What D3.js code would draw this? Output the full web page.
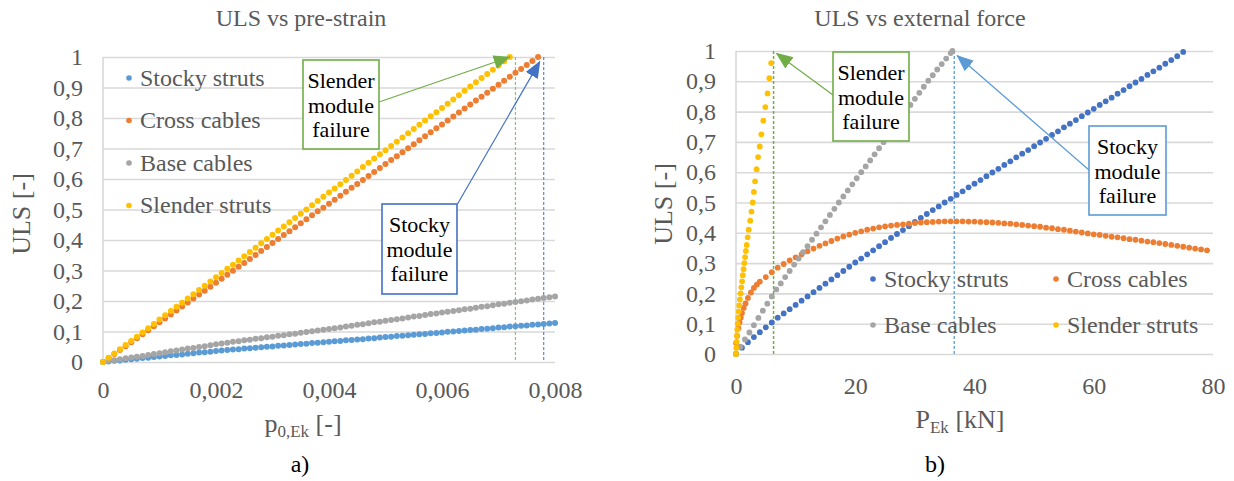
<!DOCTYPE html>
<html>
<head>
<meta charset="utf-8">
<script src="https://cdn.jsdelivr.net/npm/d3@7"></script>
<style>
  body { margin: 0; background: #fff; }
  svg { display: block; }
  text { font-family: "Liberation Serif", "Times New Roman", serif; }
</style>
</head>
<body>
<svg id="chart" width="1234" height="481"></svg>
<script>
// ---- shared ----
const seriesNames = ["Stocky struts", "Cross cables", "Base cables", "Slender struts"];
const colorsA = ["#5B9BD5", "#ED7D31", "#A5A5A5", "#FFC000"];
const colorsB = ["#4472C4", "#ED7D31", "#A5A5A5", "#FFC000"];
const ulsTicks = [0, 0.1, 0.2, 0.3, 0.4, 0.5, 0.6, 0.7, 0.8, 0.9, 1];
const strainTicks = [0, 0.002, 0.004, 0.006, 0.008];
const forceTicks = [0, 20, 40, 60, 80];

// ---- a) ULS vs pre-strain (pre-strain steps given in units of 1e-4) ----
const strainStep = [0,1,2,3,4,5,6,7,8,9,10,11,12,13,14,15,16,17,18,19,20,21,22,23,24,25,26,27,28,29,30,31,32,33,34,35,36,37,38,39,40,41,42,43,44,45,46,47,48,49,50,51,52,53,54,55,56,57,58,59,60,61,62,63,64,65,66,67,68,69,70,71,72,73,74,75,76,77,78,79,80];
const ulsStockyA = [0,.002,.004,.005,.007,.009,.011,.013,.014,.016,.018,.020,.022,.023,.025,.027,.029,.031,.032,.034,.036,.038,.039,.041,.042,.044,.045,.047,.048,.050,.051,.053,.054,.056,.057,.059,.060,.062,.063,.065,.066,.068,.069,.071,.072,.074,.075,.077,.078,.080,.082,.083,.085,.086,.088,.089,.091,.092,.094,.095,.097,.099,.100,.102,.103,.105,.106,.108,.109,.111,.113,.114,.116,.117,.119,.120,.122,.123,.125,.126,.128];
const ulsCrossA = [0,.013,.026,.039,.052,.065,.078,.091,.104,.117,.130,.143,.156,.169,.182,.195,.208,.221,.234,.247,.260,.273,.286,.299,.312,.325,.338,.351,.364,.377,.390,.403,.416,.429,.442,.455,.468,.481,.494,.506,.519,.532,.545,.558,.571,.584,.597,.610,.623,.636,.649,.662,.675,.688,.701,.714,.727,.740,.753,.766,.779,.792,.805,.818,.831,.844,.857,.870,.883,.896,.909,.922,.935,.948,.961,.974,.987,1];
const ulsBaseA = [0,.003,.006,.009,.012,.015,.017,.020,.023,.026,.029,.032,.035,.038,.041,.044,.046,.049,.052,.055,.058,.061,.063,.066,.068,.071,.073,.076,.078,.081,.083,.086,.088,.091,.093,.096,.098,.101,.103,.106,.108,.111,.113,.116,.119,.122,.124,.127,.130,.132,.135,.138,.140,.143,.146,.149,.151,.154,.157,.159,.162,.165,.167,.170,.173,.175,.178,.181,.183,.186,.189,.191,.194,.197,.199,.202,.205,.207,.210,.212,.215];
const ulsSlenderA = [0,.014,.028,.042,.056,.069,.083,.097,.111,.125,.139,.153,.167,.181,.194,.208,.222,.236,.25,.264,.278,.292,.306,.319,.333,.347,.361,.375,.389,.403,.417,.431,.444,.458,.472,.486,.5,.514,.528,.542,.556,.569,.583,.597,.611,.625,.639,.653,.667,.681,.694,.708,.722,.736,.75,.764,.778,.792,.806,.819,.833,.847,.861,.875,.889,.903,.917,.931,.944,.958,.972,.986,1];
// module failure pre-strains
const failStrainSlender = 0.0073;
const failStrainStocky = 0.0078;

// ---- b) ULS vs external force [kN] ----
const loadStocky = [0,1,2,3,4,5,6,7,8,9,10,11,12,13,14,15,16,17,18,19,20,21,22,23,24,25,26,27,28,29,30,31,32,33,34,35,36,37,38,39,40,41,42,43,44,45,46,47,48,49,50,51,52,53,54,55,56,57,58,59,60,61,62,63,64,65,66,67,68,69,70,71,72,73,74,75];
const ulsStockyB = [0,.021,.039,.056,.072,.088,.104,.12,.134,.148,.162,.176,.19,.204,.218,.232,.246,.26,.274,.288,.302,.315,.329,.342,.356,.369,.383,.396,.409,.422,.436,.449,.462,.475,.487,.5,.512,.525,.537,.55,.562,.574,.587,.599,.611,.624,.636,.649,.661,.673,.686,.698,.71,.723,.735,.748,.76,.772,.785,.797,.809,.822,.834,.846,.859,.871,.884,.896,.908,.921,.933,.945,.958,.97,.983,.997];
const loadCross = [0,.2,.4,.6,.8,1,1.3,1.6,2,2.5,3,3.5,4,5,6,7,8,9,10,11,12,13,14,15,16,17,18,19,20,21,22,23,24,25,26,27,28,29,30,31,32,33,34,35,36,37,38,39,40,41,42,43,44,45,46,47,48,49,50,51,52,53,54,55,56,57,58,59,60,61,62,63,64,65,66,67,68,69,70,71,72,73,74,75,76,77,78,79];
const ulsCrossB = [.036,.06,.085,.104,.12,.135,.152,.167,.185,.203,.218,.229,.239,.254,.27,.285,.297,.309,.319,.329,.339,.348,.357,.365,.373,.381,.388,.394,.4,.405,.41,.414,.418,.421,.424,.426,.428,.43,.432,.434,.435,.436,.437,.438,.438,.438,.438,.437,.437,.436,.435,.434,.433,.431,.43,.428,.426,.424,.422,.42,.417,.415,.412,.41,.407,.404,.401,.398,.395,.393,.39,.387,.385,.382,.379,.377,.374,.371,.369,.366,.363,.36,.357,.354,.351,.348,.345,.342];
const loadBase = [0,.75,1.5,2.25,3,3.75,4.5,5.25,6,6.75,7.5,8.25,9,9.75,10.5,11.25,12,12.75,13.5,14.25,15,15.75,16.5,17.25,18,18.75,19.5,20.25,21,21.75,22.5,23.25,24,24.75,25.5,26.25,27,27.75,28.5,29.25,30,30.75,31.5,32.25,33,33.75,34.5,35.25,36,36.3];
const ulsBaseB = [0,.024,.048,.071,.095,.119,.143,.166,.19,.213,.233,.254,.274,.295,.315,.336,.356,.377,.397,.418,.438,.459,.479,.5,.52,.54,.56,.58,.6,.619,.639,.659,.679,.699,.719,.74,.76,.781,.801,.822,.842,.862,.882,.902,.92,.939,.957,.975,.993,1];
const loadSlender = [0,.05,.1,.16,.22,.28,.36,.45,.55,.66,.78,.9,1.02,1.14,1.27,1.4,1.52,1.66,1.79,1.96,2.13,2.38,2.6,2.8,3.0,3.2,3.45,3.7,3.98,4.25,4.58,4.92,5.3,5.6,5.9];
const ulsSlenderB = [0,.02,.04,.06,.08,.1,.12,.14,.16,.18,.2,.22,.24,.26,.28,.3,.32,.34,.36,.385,.41,.44,.47,.5,.535,.57,.61,.65,.685,.725,.77,.815,.86,.91,.96];
// module failure loads
const failLoadSlender = 6.3;
const failLoadStocky = 36.6;

const svg = d3.select("#chart");
const gray = "#595959";
const gridColor = "#D9D9D9";
const green = "#70AD47";

const ulsFormat = d => (d === 0 || d === 1) ? String(d) : d.toFixed(1).replace(".", ",");

// arrowhead markers
const defs = svg.append("defs");
function marker(id, color) {
  defs.append("marker")
    .attr("id", id)
    .attr("viewBox", "0 -8 17 16")
    .attr("refX", 16).attr("refY", 0)
    .attr("markerWidth", 17).attr("markerHeight", 16)
    .attr("markerUnits", "userSpaceOnUse")
    .attr("orient", "auto")
    .append("path").attr("d", "M0,-7L17,0L0,7Z").attr("fill", color);
}
marker("arrGreen", green);
marker("arrBlueDark", "#4472C4");
marker("arrBlueLight", "#5B9BD5");

function drawPanel(o) {
  const g = svg.append("g");
  const x = d3.scaleLinear().domain(o.xDomain).range([o.left, o.right]);
  const y = d3.scaleLinear().domain([0, 1]).range([o.bottom, o.top]);

  // horizontal gridlines
  g.append("g")
    .attr("transform", `translate(${o.left},0)`)
    .call(d3.axisLeft(y).tickValues(ulsTicks).tickSize(-(o.right - o.left)).tickFormat(""))
    .call(a => a.select(".domain").remove())
    .selectAll("line").attr("stroke", gridColor).attr("stroke-width", 1.6);

  // vertical axis line
  g.append("line")
    .attr("x1", o.left).attr("x2", o.left)
    .attr("y1", o.top).attr("y2", o.bottom)
    .attr("stroke", gridColor).attr("stroke-width", 1.6);

  // y tick labels
  g.append("g")
    .attr("transform", `translate(${o.left},0)`)
    .call(d3.axisLeft(y).tickValues(ulsTicks).tickSize(0).tickPadding(20).tickFormat(ulsFormat))
    .call(a => a.select(".domain").remove())
    .attr("font-family", "Liberation Serif, Times New Roman, serif")
    .attr("font-size", 24)
    .style("color", gray);

  // x tick labels
  g.append("g")
    .attr("transform", `translate(0,${o.bottom})`)
    .call(d3.axisBottom(x).tickValues(o.xTicks).tickSize(0).tickPadding(o.xPad).tickFormat(o.xFormat))
    .call(a => a.select(".domain").remove())
    .attr("font-family", "Liberation Serif, Times New Roman, serif")
    .attr("font-size", 24)
    .style("color", gray);

  // failure markers (dashed verticals)
  o.failures.forEach(f => {
    g.append("line")
      .attr("x1", x(f.value)).attr("x2", x(f.value))
      .attr("y1", o.top).attr("y2", o.bottom)
      .attr("stroke", f.color).attr("stroke-width", f.width)
      .attr("stroke-dasharray", "3,2");
  });

  // data series
  o.series.forEach((s, i) => {
    g.append("g").selectAll("circle")
      .data(s.xs.map((v, k) => [v, s.ys[k]]))
      .join("circle")
      .attr("cx", d => x(d[0] * (o.xUnit || 1)))
      .attr("cy", d => y(d[1]))
      .attr("r", o.r)
      .attr("fill", o.colors[i]);
  });

  // title
  g.append("text")
    .attr("x", o.titleX).attr("y", 26)
    .attr("text-anchor", "middle")
    .attr("font-size", 24).attr("fill", gray)
    .text(o.title);

  // y axis title
  g.append("text")
    .attr("transform", `translate(${o.yTitleX},${o.yTitleY}) rotate(-90)`)
    .attr("text-anchor", "middle").attr("dy", "0.35em")
    .attr("font-size", 26).attr("fill", gray)
    .text("ULS [-]");

  // x axis title with subscript
  const xt = g.append("text")
    .attr("x", o.xTitleX).attr("y", o.xTitleY)
    .attr("text-anchor", "middle")
    .attr("font-size", 26).attr("fill", gray);
  xt.append("tspan").text(o.xTitle[0]);
  xt.append("tspan").attr("font-size", 17).attr("dy", 5).text(o.xTitle[1]);
  xt.append("tspan").attr("dy", -5).text(o.xTitle[2]);

  // panel caption
  g.append("text")
    .attr("x", o.captionX).attr("y", 472)
    .attr("text-anchor", "middle")
    .attr("font-size", 24).attr("fill", "#000")
    .text(o.caption);

  // legend
  o.legend.forEach((l, i) => {
    g.append("circle").attr("cx", l.x).attr("cy", l.y).attr("r", 2.8).attr("fill", o.colors[i]);
    g.append("text").attr("x", l.x + 11).attr("y", l.y).attr("dy", "0.33em")
      .attr("font-size", 24).attr("fill", gray).text(seriesNames[i]);
  });

  // annotation callouts
  o.notes.forEach(n => {
    g.append("line")
      .attr("x1", n.from[0]).attr("y1", n.from[1])
      .attr("x2", x(n.tip[0])).attr("y2", y(n.tip[1]))
      .attr("stroke", n.color).attr("stroke-width", 1.2)
      .attr("marker-end", `url(#${n.marker})`);
    g.append("rect")
      .attr("x", n.box[0]).attr("y", n.box[1])
      .attr("width", n.box[2]).attr("height", n.box[3])
      .attr("fill", "#fff").attr("stroke", n.color).attr("stroke-width", 1.6);
    n.lines.forEach((t, k) => {
      g.append("text")
        .attr("x", n.box[0] + n.box[2] / 2).attr("y", n.box[1] + 28 + k * 24.5)
        .attr("text-anchor", "middle")
        .attr("font-size", 22).attr("fill", "#000")
        .text(t);
    });
  });
}

drawPanel({
  xDomain: [0, 0.008], left: 103, right: 555, top: 57, bottom: 362,
  xTicks: strainTicks, xPad: 19,
  xFormat: d => d === 0 ? "0" : d.toFixed(3).replace(".", ","),
  xUnit: 1e-4, r: 3, colors: colorsA,
  series: [
    { xs: strainStep.slice(0, ulsStockyA.length), ys: ulsStockyA },
    { xs: strainStep.slice(0, ulsCrossA.length), ys: ulsCrossA },
    { xs: strainStep.slice(0, ulsBaseA.length), ys: ulsBaseA },
    { xs: strainStep.slice(0, ulsSlenderA.length), ys: ulsSlenderA }
  ],
  failures: [
    { value: failStrainSlender, color: "#8CC36A", width: 1.2 },
    { value: failStrainStocky, color: "#5B86D0", width: 1.2 }
  ],
  title: "ULS vs pre-strain", titleX: 301,
  yTitleX: 21, yTitleY: 214,
  xTitle: ["p", "0,Ek", " [-]"], xTitleX: 303, xTitleY: 432,
  caption: "a)", captionX: 300,
  legend: [{ x: 129, y: 78 }, { x: 129, y: 120.5 }, { x: 129, y: 163 }, { x: 129, y: 205.5 }],
  notes: [
    { box: [303, 60, 76, 89], lines: ["Slender", "module", "failure"], color: green,
      marker: "arrGreen", from: [379, 102], tip: [0.0072, 1] },
    { box: [382, 204, 75, 90], lines: ["Stocky", "module", "failure"], color: "#4472C4",
      marker: "arrBlueDark", from: [457.5, 204], tip: [0.00773, 0.985] }
  ]
});

drawPanel({
  xDomain: [0, 80], left: 736, right: 1213, top: 51, bottom: 354,
  xTicks: forceTicks, xPad: 23,
  xFormat: d => String(d),
  xUnit: 1, r: 2.9, colors: colorsB,
  series: [
    { xs: loadStocky, ys: ulsStockyB },
    { xs: loadCross, ys: ulsCrossB },
    { xs: loadBase, ys: ulsBaseB },
    { xs: loadSlender, ys: ulsSlenderB }
  ],
  failures: [
    { value: failLoadSlender, color: green, width: 1.5 },
    { value: failLoadStocky, color: "#5B9BD5", width: 1.3 }
  ],
  title: "ULS vs external force", titleX: 920,
  yTitleX: 663, yTitleY: 204,
  xTitle: ["P", "Ek", " [kN]"], xTitleX: 960, xTitleY: 428,
  caption: "b)", captionX: 935,
  legend: [{ x: 873, y: 279 }, { x: 1056, y: 279 }, { x: 873, y: 325 }, { x: 1056, y: 325 }],
  notes: [
    { box: [833, 52, 76, 89], lines: ["Slender", "module", "failure"], color: green,
      marker: "arrGreen", from: [833, 95], tip: [6.8, 0.992] },
    { box: [1089, 126, 77, 89], lines: ["Stocky", "module", "failure"], color: "#5B9BD5",
      marker: "arrBlueLight", from: [1089, 170], tip: [37.1, 0.985] }
  ]
});
</script>
</body>
</html>
